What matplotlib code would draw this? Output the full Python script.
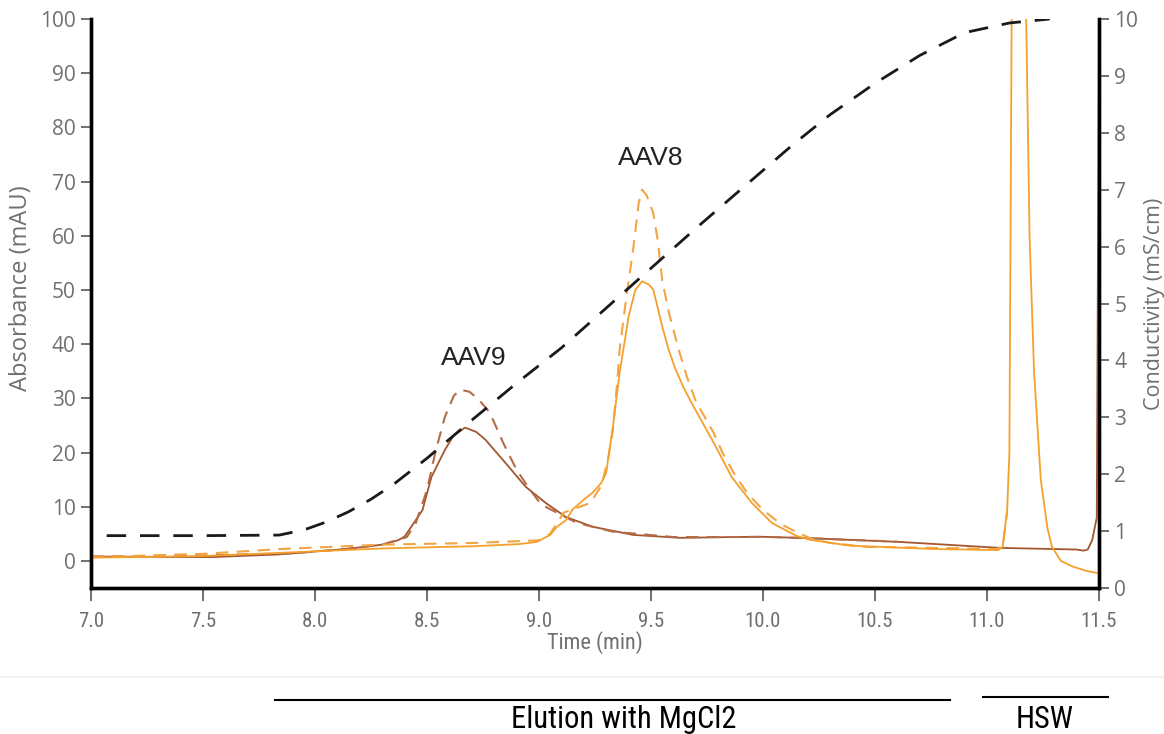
"""Chromatogram of AAV8 / AAV9 separation with MgCl2 elution and HSW step."""
import matplotlib
matplotlib.use('Agg')
import matplotlib.pyplot as plt
from matplotlib.lines import Line2D
from matplotlib import font_manager
import numpy as np

# ---- traces (time in min, absorbance in mAU) ----
aav9_t = [7.0, 7.54, 7.84, 8.14, 8.30, 8.37, 8.40, 8.43, 8.48, 8.52, 8.58, 8.62,
          8.67, 8.72, 8.76, 8.85, 8.94, 9.03, 9.12, 9.24, 9.42, 9.63, 9.85, 10.0,
          10.2, 10.61, 11.06, 11.40, 11.43, 11.45, 11.47, 11.49, 11.50]
aav9_a = [0.8, 0.7, 1.2, 2.2, 3.0, 3.8, 4.5, 6.3, 9.4, 15.5, 20.5, 23.2,
          24.6, 23.8, 22.4, 18.1, 13.7, 10.7, 8.1, 6.3, 4.8, 4.25, 4.4, 4.45,
          4.2, 3.5, 2.4, 2.1, 1.9, 2.1, 3.9, 8.0, 100.0]

aav9d_t = [7.0, 7.5, 7.9, 8.14, 8.30, 8.41, 8.45, 8.50, 8.54, 8.58, 8.62, 8.65,
           8.69, 8.73, 8.78, 8.84, 8.90, 8.96, 9.01, 9.17, 9.33, 9.60, 9.85,
           10.0, 10.2, 10.6]
aav9d_a = [0.8, 1.0, 1.4, 2.2, 3.0, 4.4, 7.0, 13.1, 20.5, 26.6, 30.5, 31.6,
           31.2, 29.8, 27.4, 21.8, 16.8, 13.1, 10.4, 7.0, 5.4, 4.4, 4.4,
           4.45, 4.2, 3.55]

aav8_t = [7.0, 7.5, 7.85, 8.3, 8.7, 8.91, 8.99, 9.05, 9.08, 9.12, 9.15, 9.20,
          9.24, 9.28, 9.30, 9.33, 9.36, 9.40, 9.43, 9.46, 9.49, 9.51, 9.55,
          9.58, 9.61, 9.65, 9.69, 9.78, 9.86, 9.95, 10.04, 10.15, 10.21, 10.39,
          10.76, 11.05, 11.07, 11.09, 11.10, 11.105, 11.11, 11.14, 11.175,
          11.19, 11.21, 11.24, 11.27, 11.29, 11.33, 11.38, 11.44, 11.50]
aav8_a = [0.6, 0.9, 1.5, 2.3, 2.7, 3.1, 3.5, 4.8, 6.3, 7.5, 9.5, 11.3,
          12.6, 14.5, 16.3, 24.8, 34.7, 45.1, 50.0, 51.6, 51.0, 50.1, 43.3,
          38.8, 35.3, 31.6, 28.5, 21.8, 15.5, 10.7, 7.0, 4.6, 3.9, 2.8,
          2.2, 2.0, 2.6, 9.4, 20.0, 60.0, 100.0, 180.0, 100.0,
          60.0, 35.0, 15.0, 6.0, 2.6, 0.0, -1.0, -1.8, -2.3]

aav8d_t = [7.0, 7.5, 7.85, 8.3, 8.7, 9.0, 9.05, 9.11, 9.23, 9.28, 9.31, 9.33,
           9.35, 9.36, 9.39, 9.42, 9.445, 9.46, 9.48, 9.51, 9.53, 9.55, 9.58,
           9.62, 9.66, 9.70, 9.78, 9.82, 9.87, 9.93, 10.0, 10.08, 10.15, 10.21,
           10.3, 10.46, 10.76, 11.04, 11.07, 11.09]
aav8d_a = [0.7, 1.3, 2.2, 3.0, 3.3, 3.8, 5.0, 8.9, 10.7, 14.0, 19.2, 24.2,
           33.4, 39.0, 48.7, 57.4, 66.0, 68.5, 67.5, 64.2, 59.2, 51.8, 45.8,
           39.5, 34.0, 29.5, 23.6, 19.9, 16.2, 12.5, 9.4, 6.8, 5.3, 4.2,
           3.3, 2.6, 2.4, 2.2, 2.6, 9.0]

# conductivity (mS/cm)
cond_t = [7.07, 7.5, 7.84, 7.95, 8.05, 8.15, 8.25, 8.35, 8.5, 8.7, 8.9, 9.1,
          9.3, 9.46, 9.7, 9.9, 10.13, 10.3, 10.5, 10.7, 10.9, 11.1, 11.28]
cond_v = [0.92, 0.92, 0.93, 1.02, 1.16, 1.34, 1.56, 1.82, 2.28, 2.95, 3.6, 4.22,
          4.92, 5.48, 6.32, 7.0, 7.78, 8.32, 8.87, 9.36, 9.76, 9.93, 10.0]

xticks = [7.0, 7.5, 8.0, 8.5, 9.0, 9.5, 10.0, 10.5, 11.0, 11.5]
yticks_abs = list(range(0, 101, 10))
yticks_cond = list(range(0, 11))

BROWN = '#a3562f'
BROWN_D = '#b36c48'
ORANGE = '#f5a02a'
ORANGE_D = '#f3a444'
GREY = '#707070'

installed = {f.name for f in font_manager.fontManager.ttflist}
NARROW = [n for n in ('Roboto Condensed', 'Liberation Sans Narrow', 'Roboto')
          if n in installed] + ['DejaVu Sans']
ROUND = [n for n in ('Open Sans', 'Lato') if n in installed] + ['DejaVu Sans']

W, H = 1164, 734
fig = plt.figure(figsize=(W / 100, H / 100), dpi=100)
ax = fig.add_axes([91 / W, 1 - 588 / H, (1099 - 91) / W, (588 - 19) / H])
ax2 = ax.twinx()

ax.plot(aav9_t, aav9_a, color=BROWN, lw=1.3, zorder=3)
ax.plot(aav9d_t, aav9d_a, color=BROWN_D, lw=1.5, dashes=(6, 4), zorder=3)
ax.plot(aav8d_t, aav8d_a, color=ORANGE_D, lw=1.5, dashes=(6, 4), zorder=3)
ax.plot(aav8_t, aav8_a, color=ORANGE, lw=1.3, zorder=3)
ax2.plot(cond_t, cond_v, color='#1a1a1a', lw=2.0, dashes=(7, 5))

ax.set_xlim(7.0, 11.5)
ax.set_ylim(-5, 100)
ax2.set_ylim(0, 10)
ax.set_xticks(xticks)
ax.set_xticklabels([f'{v:.1f}' for v in xticks], family=NARROW, fontsize=15)
ax.set_yticks(yticks_abs)
ax.set_yticklabels([str(v) for v in yticks_abs], family=ROUND, fontsize=15)
ax2.set_yticks(yticks_cond)
ax2.set_yticklabels([str(v) for v in yticks_cond], family=ROUND, fontsize=15)

for a in (ax, ax2):
    a.spines['top'].set_visible(False)
    for s in ('left', 'right', 'bottom'):
        a.spines[s].set_linewidth(2.4)
        a.spines[s].set_color('black')
    a.tick_params(colors=GREY, width=1.4, length=7, direction='out', pad=4)
ax.tick_params(axis='x', length=9, pad=8)

ax.set_xlabel('Time (min)', family=NARROW, fontsize=16, color=GREY, labelpad=0)
ax.set_ylabel('Absorbance (mAU)', family=ROUND, fontsize=17, color=GREY)
ax.yaxis.set_label_coords(-0.058, 0.527)
ax2.set_ylabel('Conductivity (mS/cm)', family=ROUND, fontsize=15.5, color=GREY,
               labelpad=4)

ax.text(8.71, 37.5, 'AAV9', ha='center', va='center', fontsize=19,
        family=['Liberation Sans', 'DejaVu Sans'], color='#222222')
ax.text(9.50, 74.4, 'AAV8', ha='center', va='center', fontsize=19,
        family=['Liberation Sans', 'DejaVu Sans'], color='#222222')

# phase bars below the plot
fig.add_artist(Line2D([0, 1], [1 - 677 / H] * 2, color='#f0f0f0', lw=1.5))
fig.add_artist(Line2D([275 / W, 950 / W], [1 - 700 / H] * 2, color='black', lw=1.5))
fig.add_artist(Line2D([983 / W, 1108 / W], [1 - 697 / H] * 2, color='black', lw=1.5))
fig.text(624 / W, 1 - 719 / H, 'Elution with MgCl2', ha='center', va='center',
         fontsize=22, family=NARROW, color='black')
fig.text(1045 / W, 1 - 719 / H, 'HSW', ha='center', va='center',
         fontsize=22, family=NARROW, color='black')

fig.savefig('out.png', dpi=100)
